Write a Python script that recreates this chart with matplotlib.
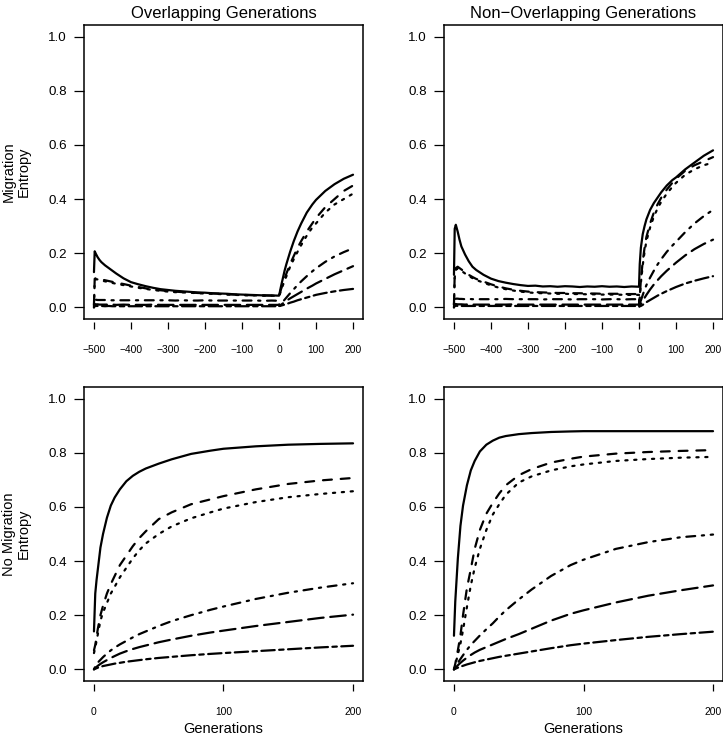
import matplotlib
matplotlib.use("Agg")
import matplotlib.pyplot as plt

plt.rcParams['font.family'] = ['Liberation Sans', 'DejaVu Sans']

# generations with migration (top row): 500 generations of migration, then 200 without
mig_pre_gen = [-500, -498, -495, -490, -485, -480, -470, -460, -450, -440, -420, -400,
               -380, -360, -340, -320, -300, -280, -260, -240, -220, -200, -180, -160,
               -140, -120, -100, -80, -60, -40, -20, 0]
mig_post_gen = [1, 2, 5, 10, 15, 20, 30, 40, 50, 60, 75, 90, 100, 125, 150, 175, 200]
mig_gen = mig_pre_gen + mig_post_gen

# generations without migration (bottom row)
nomig_gen = [0, 1, 2, 3, 5, 7, 10, 13, 16, 20, 25, 30, 35, 40, 50, 60, 75, 90, 100,
             125, 150, 175, 200]

# overlapping generations, migration
og_mig_1 = [0.13, 0.207, 0.198, 0.185, 0.175, 0.167, 0.155, 0.145, 0.135, 0.125, 0.107, 0.093,
            0.085, 0.078, 0.072, 0.067, 0.064, 0.061, 0.059, 0.057, 0.055, 0.054, 0.052, 0.051,
            0.05, 0.048, 0.047, 0.046, 0.045, 0.044, 0.044, 0.043] + \
           [0.048, 0.055, 0.075, 0.105, 0.135, 0.16, 0.205, 0.245, 0.28, 0.31, 0.35, 0.38,
            0.397, 0.43, 0.455, 0.475, 0.49]
og_mig_2 = [0.01, 0.105, 0.108, 0.107, 0.105, 0.103, 0.1, 0.097, 0.094, 0.091, 0.086, 0.08,
            0.075, 0.07, 0.066, 0.063, 0.06, 0.058, 0.056, 0.055, 0.053, 0.052, 0.051, 0.05,
            0.048, 0.047, 0.046, 0.045, 0.044, 0.044, 0.043, 0.043] + \
           [0.046, 0.05, 0.065, 0.085, 0.105, 0.125, 0.16, 0.19, 0.22, 0.245, 0.28, 0.31,
            0.33, 0.37, 0.40, 0.43, 0.45]
og_mig_3 = [0.005, 0.1, 0.104, 0.103, 0.101, 0.099, 0.096, 0.093, 0.09, 0.087, 0.082, 0.077,
            0.072, 0.068, 0.064, 0.061, 0.058, 0.056, 0.055, 0.054, 0.052, 0.051, 0.05, 0.049,
            0.047, 0.046, 0.045, 0.044, 0.044, 0.043, 0.043, 0.042] + \
           [0.045, 0.048, 0.06, 0.08, 0.098, 0.115, 0.15, 0.178, 0.205, 0.23, 0.265, 0.295,
            0.31, 0.35, 0.38, 0.40, 0.42]
og_mig_4 = [0.0, 0.028, 0.028, 0.027, 0.027, 0.027, 0.027, 0.026, 0.026, 0.026, 0.026, 0.026,
            0.026, 0.026, 0.026, 0.026, 0.026, 0.025, 0.026, 0.025, 0.025, 0.026, 0.025, 0.025,
            0.025, 0.025, 0.025, 0.025, 0.025, 0.024, 0.025, 0.024] + \
           [0.005, 0.007, 0.012, 0.02, 0.028, 0.036, 0.052, 0.067, 0.082, 0.096, 0.115, 0.133,
            0.144, 0.168, 0.188, 0.204, 0.218]
og_mig_5 = [0.0, 0.012, 0.011, 0.011, 0.01, 0.01, 0.01, 0.01, 0.01, 0.009, 0.01, 0.009,
            0.009, 0.009, 0.01, 0.009, 0.009, 0.009, 0.009, 0.009, 0.009, 0.009, 0.009, 0.009,
            0.009, 0.009, 0.009, 0.009, 0.009, 0.009, 0.009, 0.009] + \
           [0.005, 0.006, 0.009, 0.014, 0.019, 0.024, 0.033, 0.041, 0.049, 0.057, 0.069, 0.08,
            0.088, 0.105, 0.122, 0.137, 0.152]
og_mig_6 = [0.0, 0.005, 0.005, 0.005, 0.005, 0.005, 0.004, 0.005, 0.004, 0.004, 0.004, 0.004,
            0.004, 0.004, 0.004, 0.004, 0.004, 0.004, 0.004, 0.004, 0.004, 0.004, 0.004, 0.004,
            0.004, 0.004, 0.004, 0.004, 0.004, 0.004, 0.004, 0.004] + \
           [0.004, 0.005, 0.006, 0.008, 0.01, 0.012, 0.017, 0.021, 0.026, 0.03, 0.036, 0.042,
            0.046, 0.053, 0.059, 0.064, 0.068]

# non-overlapping generations, migration
nog_mig_1 = [0.12, 0.29, 0.305, 0.28, 0.25, 0.225, 0.195, 0.17, 0.15, 0.138, 0.12, 0.106,
             0.097, 0.091, 0.086, 0.082, 0.079, 0.08, 0.077, 0.078, 0.076, 0.078, 0.077, 0.075,
             0.077, 0.076, 0.078, 0.076, 0.077, 0.075, 0.077, 0.076] + \
            [0.12, 0.16, 0.22, 0.27, 0.30, 0.325, 0.36, 0.385, 0.405, 0.425, 0.45, 0.47,
             0.48, 0.51, 0.535, 0.56, 0.58]
nog_mig_2 = [0.01, 0.12, 0.145, 0.15, 0.145, 0.14, 0.13, 0.12, 0.112, 0.105, 0.095, 0.085,
             0.077, 0.07, 0.065, 0.061, 0.058, 0.056, 0.055, 0.054, 0.053, 0.053, 0.052, 0.052,
             0.051, 0.051, 0.05, 0.05, 0.05, 0.049, 0.049, 0.049] + \
            [0.01, 0.04, 0.1, 0.17, 0.22, 0.26, 0.31, 0.35, 0.38, 0.405, 0.435, 0.46,
             0.475, 0.505, 0.525, 0.54, 0.555]
nog_mig_3 = [0.008, 0.11, 0.138, 0.144, 0.14, 0.135, 0.125, 0.116, 0.108, 0.101, 0.091, 0.081,
             0.073, 0.067, 0.062, 0.058, 0.055, 0.053, 0.052, 0.051, 0.05, 0.05, 0.049, 0.049,
             0.048, 0.048, 0.047, 0.047, 0.047, 0.046, 0.046, 0.046] + \
            [0.008, 0.035, 0.09, 0.155, 0.205, 0.245, 0.295, 0.335, 0.365, 0.39, 0.42, 0.445,
             0.46, 0.49, 0.51, 0.525, 0.535]
nog_mig_4 = [0.0, 0.03, 0.032, 0.032, 0.031, 0.031, 0.03, 0.031, 0.03, 0.03, 0.03, 0.03,
             0.03, 0.031, 0.03, 0.03, 0.03, 0.03, 0.029, 0.03, 0.03, 0.03, 0.029, 0.03,
             0.03, 0.03, 0.029, 0.03, 0.03, 0.029, 0.03, 0.03] + \
            [0.005, 0.01, 0.025, 0.045, 0.065, 0.082, 0.11, 0.135, 0.158, 0.178, 0.205, 0.228,
             0.242, 0.278, 0.31, 0.337, 0.36]
nog_mig_5 = [0.0, 0.012, 0.012, 0.011, 0.011, 0.011, 0.01, 0.011, 0.01, 0.01, 0.01, 0.01,
             0.01, 0.01, 0.011, 0.01, 0.01, 0.01, 0.01, 0.01, 0.01, 0.01, 0.01, 0.01,
             0.01, 0.01, 0.01, 0.01, 0.01, 0.01, 0.01, 0.01] + \
            [0.003, 0.005, 0.012, 0.024, 0.035, 0.046, 0.066, 0.084, 0.1, 0.115, 0.135, 0.153,
             0.165, 0.192, 0.215, 0.234, 0.25]
nog_mig_6 = [0.0, 0.006, 0.006, 0.005, 0.005, 0.005, 0.005, 0.005, 0.005, 0.005, 0.005, 0.005,
             0.005, 0.005, 0.005, 0.005, 0.005, 0.005, 0.005, 0.005, 0.005, 0.005, 0.005, 0.005,
             0.005, 0.005, 0.005, 0.005, 0.005, 0.005, 0.005, 0.005] + \
            [0.003, 0.004, 0.005, 0.009, 0.014, 0.019, 0.027, 0.035, 0.043, 0.05, 0.06, 0.069,
             0.075, 0.088, 0.098, 0.107, 0.115]

# overlapping generations, no migration
og_nomig_1 = [0.14, 0.28, 0.33, 0.37, 0.45, 0.5, 0.56, 0.605, 0.635, 0.665, 0.695, 0.715,
              0.73, 0.742, 0.76, 0.776, 0.796, 0.808, 0.815, 0.824, 0.83, 0.833, 0.835]
og_nomig_2 = [0.07, 0.09, 0.12, 0.15, 0.2, 0.235, 0.28, 0.315, 0.345, 0.385, 0.42, 0.455,
              0.485, 0.51, 0.555, 0.58, 0.61, 0.628, 0.64, 0.665, 0.685, 0.698, 0.707]
og_nomig_3 = [0.06, 0.08, 0.105, 0.13, 0.18, 0.21, 0.245, 0.28, 0.305, 0.34, 0.375, 0.41,
              0.44, 0.465, 0.5, 0.528, 0.558, 0.58, 0.594, 0.618, 0.636, 0.648, 0.658]
og_nomig_4 = [0.0, 0.01, 0.018, 0.025, 0.035, 0.045, 0.058, 0.07, 0.08, 0.092, 0.105, 0.118,
              0.13, 0.14, 0.16, 0.178, 0.2, 0.22, 0.232, 0.26, 0.283, 0.302, 0.318]
og_nomig_5 = [0.0, 0.005, 0.009, 0.013, 0.02, 0.026, 0.034, 0.042, 0.049, 0.058, 0.067, 0.075,
              0.082, 0.088, 0.1, 0.11, 0.124, 0.136, 0.143, 0.16, 0.175, 0.19, 0.202]
og_nomig_6 = [0.0, 0.002, 0.004, 0.006, 0.009, 0.012, 0.015, 0.018, 0.021, 0.024, 0.028, 0.031,
              0.034, 0.037, 0.042, 0.046, 0.052, 0.057, 0.06, 0.067, 0.074, 0.081, 0.087]

# non-overlapping generations, no migration
nog_nomig_1 = [0.124, 0.25, 0.33, 0.41, 0.53, 0.605, 0.68, 0.735, 0.77, 0.805, 0.83, 0.845,
               0.856, 0.862, 0.869, 0.873, 0.877, 0.879, 0.88, 0.88, 0.88, 0.88, 0.88]
nog_nomig_2 = [0.0, 0.02, 0.045, 0.07, 0.125, 0.2, 0.3, 0.37, 0.445, 0.515, 0.575, 0.615,
               0.65, 0.68, 0.717, 0.74, 0.764, 0.778, 0.786, 0.797, 0.803, 0.807, 0.81]
nog_nomig_3 = [0.0, 0.015, 0.035, 0.055, 0.095, 0.145, 0.23, 0.31, 0.375, 0.445, 0.515, 0.572,
               0.61, 0.645, 0.69, 0.713, 0.735, 0.75, 0.757, 0.77, 0.777, 0.782, 0.785]
nog_nomig_4 = [0.0, 0.008, 0.016, 0.024, 0.038, 0.052, 0.072, 0.09, 0.105, 0.125, 0.148, 0.17,
               0.195, 0.218, 0.258, 0.295, 0.345, 0.385, 0.405, 0.445, 0.47, 0.488, 0.498]
nog_nomig_5 = [0.0, 0.005, 0.01, 0.015, 0.024, 0.032, 0.043, 0.053, 0.062, 0.072, 0.082, 0.092,
               0.102, 0.112, 0.13, 0.15, 0.18, 0.205, 0.218, 0.247, 0.272, 0.292, 0.31]
nog_nomig_6 = [0.0, 0.002, 0.004, 0.006, 0.01, 0.013, 0.018, 0.022, 0.026, 0.031, 0.036, 0.041,
               0.046, 0.05, 0.058, 0.066, 0.078, 0.089, 0.095, 0.108, 0.12, 0.13, 0.139]

titles = ['Overlapping Generations', 'Non\u2212Overlapping Generations']
row_labels = ['Migration\nEntropy', 'No Migration\nEntropy']

# R lty 1..6
ltys = ['-', (0, (4, 4)), (0, (1, 3)), (0, (1, 3, 4, 3)), (0, (7, 3)), (0, (2, 2, 6, 2))]

W, H = 723, 737
fig = plt.figure(figsize=(W / 100, H / 100), dpi=100)

lefts = [83.6, 443.6]
tops = [25, 387]
aw, ah = 279.8, 294

panels = [
    [(mig_gen, [og_mig_1, og_mig_2, og_mig_3, og_mig_4, og_mig_5, og_mig_6]),
     (mig_gen, [nog_mig_1, nog_mig_2, nog_mig_3, nog_mig_4, nog_mig_5, nog_mig_6])],
    [(nomig_gen, [og_nomig_1, og_nomig_2, og_nomig_3, og_nomig_4, og_nomig_5, og_nomig_6]),
     (nomig_gen, [nog_nomig_1, nog_nomig_2, nog_nomig_3, nog_nomig_4, nog_nomig_5, nog_nomig_6])],
]

for r in range(2):
    for c in range(2):
        ax = fig.add_axes([lefts[c] / W, 1 - (tops[r] + ah) / H, aw / W, ah / H])
        x, series = panels[r][c]
        for ys, ls in zip(series, ltys):
            ax.plot(x, ys, color='black', lw=1.6, linestyle=ls,
                    dash_capstyle='round', solid_capstyle='round')
        if r == 0:
            ax.set_xlim(-528, 228)
            xt = [-500, -400, -300, -200, -100, 0, 100, 200]
        else:
            ax.set_xlim(-8, 208)
            xt = [0, 100, 200]
        ax.set_ylim(-0.0432, 1.0432)
        ax.set_yticks([0.0, 0.2, 0.4, 0.6, 0.8, 1.0])
        ax.set_yticklabels(['0.0', '0.2', '0.4', '0.6', '0.8', '1.0'])
        ax.tick_params(axis='y', direction='out', length=7.2, width=0.9, pad=5,
                       labelsize=9.6)
        ax.tick_params(axis='x', bottom=False, labelbottom=False)
        for s in ax.spines.values():
            s.set_linewidth(1.1)
        sec = ax.secondary_xaxis(-0.009)
        sec.spines['bottom'].set_visible(False)
        sec.set_xticks(xt)
        sec.tick_params(direction='out', length=5, width=0.9, pad=11.5, labelsize=7.4)
        if r == 0:
            ax.set_title(titles[c], fontsize=12, pad=5)
        else:
            fig.text((lefts[c] + aw / 2) / W, 1 - 733 / H, 'Generations',
                     ha='center', va='baseline', fontsize=10.5)
    fig.text(16 / W, 1 - (tops[r] + ah / 2) / H, row_labels[r], rotation=90,
             ha='center', va='center', fontsize=10.5, linespacing=1.05,
             multialignment='center')

fig.savefig('out.png', dpi=100)
